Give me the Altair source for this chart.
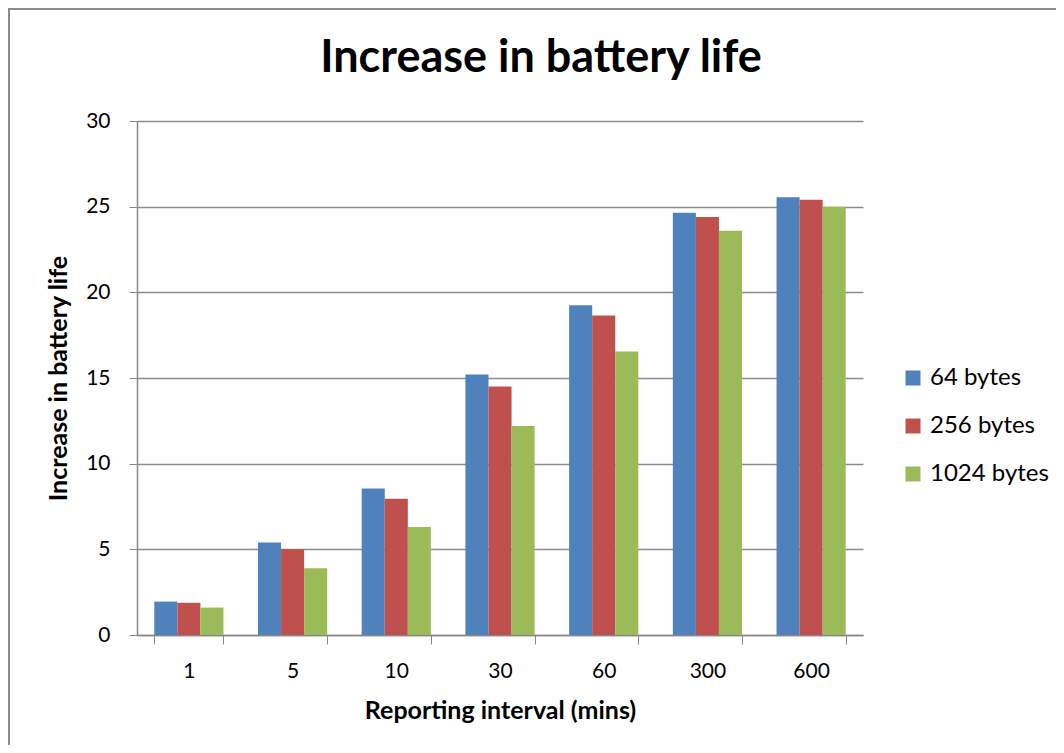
import altair as alt
import pandas as pd

intervals = ["1", "5", "10", "30", "60", "300", "600"]
series = ["64 bytes", "256 bytes", "1024 bytes"]
v64 = [1.95, 5.4, 8.55, 15.2, 19.25, 24.65, 25.55]
v256 = [1.88, 5.0, 7.95, 14.5, 18.65, 24.4, 25.4]
v1024 = [1.6, 3.9, 6.3, 12.2, 16.55, 23.6, 25.0]
colors = ["#4F81BD", "#C0504D", "#9BBB59"]

rows = []
for s, vals in zip(series, [v64, v256, v1024]):
    for i, v in zip(intervals, vals):
        rows.append({"interval": i, "series": s, "value": v})
df = pd.DataFrame(rows)

FONT = "Lato"

bars = alt.Chart(df).mark_bar().encode(
    x=alt.X("interval:N", sort=intervals,
            scale=alt.Scale(paddingInner=0.333, paddingOuter=0.1667),
            axis=alt.Axis(title="Reporting interval (mins)", labelAngle=0,
                          tickBand="extent", tickSize=9, labelPadding=16,
                          titlePadding=17)),
    xOffset=alt.XOffset("series:N", sort=series),
    y=alt.Y("value:Q", scale=alt.Scale(domain=[0, 30], nice=False),
            axis=alt.Axis(title="Increase in battery life", values=[0, 5, 10, 15, 20, 25, 30],
                          tickSize=8, labelPadding=19, titlePadding=14)),
    color=alt.Color("series:N", sort=series,
                    scale=alt.Scale(domain=series, range=colors),
                    legend=alt.Legend(title=None, orient="none", legendX=764, legendY=245,
                                      symbolType="square", symbolSize=225,
                                      symbolStrokeWidth=0, labelFontSize=24,
                                      labelFont=FONT, rowPadding=24, labelOffset=5,
                                      labelColor="#000000")),
)

frame = alt.Chart(pd.DataFrame({"a": [0]})).mark_rect(
    fill=None, stroke="#8c8c8c", strokeWidth=2
).encode(
    x=alt.value(-128), x2=alt.value(1000), y=alt.value(-112), y2=alt.value(700)
)

chart = alt.layer(frame, bars).properties(
    width=726, height=514,
    autosize=alt.AutoSizeParams(type="none"),
    padding={"left": 129, "top": 113, "right": 193, "bottom": 110},
    title=alt.Title("Increase in battery life", fontSize=45, font=FONT, fontWeight="bold",
                    anchor="middle", dx=41, offset=-109, baseline="alphabetic", color="#000000"),
).configure_view(stroke=None).configure_axis(
    labelFont=FONT, titleFont=FONT, labelFontSize=21, titleFontSize=25,
    labelColor="#000000", titleColor="#000000", titleFontWeight="bold",
    domainColor="#888888", tickColor="#888888", gridColor="#8c8c8c", domainWidth=1.5,
).configure_axisX(grid=False).configure_axisY(grid=True, gridWidth=1.5)

chart.save("out.html", embed_options={"renderer": "svg", "actions": False})
